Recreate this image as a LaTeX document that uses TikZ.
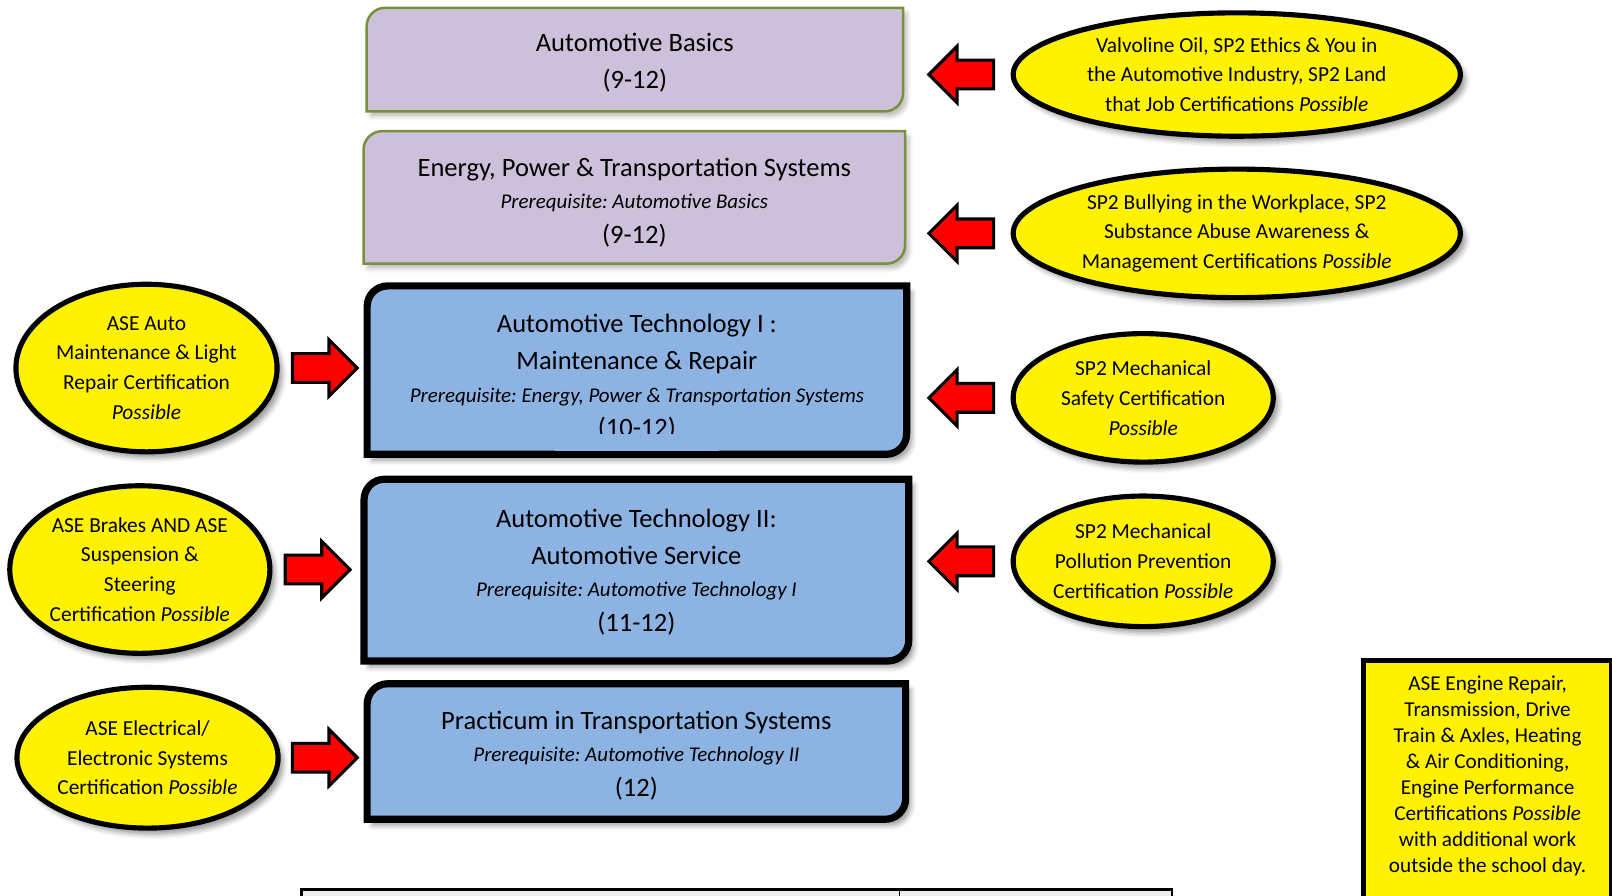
\documentclass[tikz,border=0pt]{standalone}
\usepackage{fontspec}
\setmainfont{Carlito}
\frenchspacing
\usetikzlibrary{shapes,calc,shadows.blur}
\definecolor{purplefill}{HTML}{CCC0DA}
\definecolor{oliveline}{HTML}{76923C}
\definecolor{bluefill}{HTML}{8DB3E2}
\definecolor{tablefill}{HTML}{EEEEEE}
\newcommand{\coursefont}{\fontsize{12.9}{18}\selectfont}
\newcommand{\prereqfont}{\fontsize{10.2}{12}\selectfont\itshape}
\newcommand{\certfont}{\fontsize{10.4}{14.5}\selectfont}
\newcommand{\notefont}{\fontsize{10.3}{12.6}\selectfont}
% outline with round top left and bottom right corners
\newcommand{\drawcourse}[3]{%
  \path[#2] ($(#1.north west)+(0,-#3)$) arc[start angle=180, end angle=90, radius=#3]
    -- (#1.north east) -- ($(#1.south east)+(0,#3)$) arc[start angle=0, end angle=-90, radius=#3]
    -- (#1.south west) -- cycle;}
\tikzset{
frame/.style = {rectangle, inner sep=0pt},
course/.style = {inner sep=0pt, align=center, font=\coursefont},
intro/.style = {draw=oliveline, fill=purplefill, line width=1.2pt,
  blur shadow={shadow xshift=2pt, shadow yshift=-2.5pt, shadow blur radius=2pt, shadow opacity=25}},
core/.style = {draw=black, fill=bluefill, line width=3.5pt,
  blur shadow={shadow xshift=2.5pt, shadow yshift=-3pt, shadow blur radius=2.5pt, shadow opacity=40}},
cert/.style = {ellipse, draw, fill=yellow, line width=2.5pt, inner xsep=-5pt, inner ysep=0pt,
  align=center, font=\certfont,
  blur shadow={shadow xshift=2.5pt, shadow yshift=-3pt, shadow blur radius=2.5pt, shadow opacity=40}},
note/.style = {rectangle, draw, fill=yellow, line width=2.5pt, align=center, font=\notefont},
blockarrow/.style = {single arrow, draw, fill=red, line width=1.5pt, minimum height=31.5pt,
  inner xsep=0pt, inner ysep=6.25pt, single arrow head extend=6.75pt},
toleft/.style = {blockarrow, shape border rotate=180, anchor=tail}
}
\begin{document}
\begin{tikzpicture}[x=0.5pt, y=-0.5pt]
\useasboundingbox (0,0) rectangle (1568,871);
\clip (0,0) rectangle (1568,871);

% course sequence
\node [frame, minimum width=260.5pt, minimum height=50pt] (basics) at (617.5,58) {};
\drawcourse{basics}{intro}{9pt}
\node [course] (basicstext) at (617.5,61) {Automotive Basics\\(9-12)};

\node [frame, minimum width=263pt, minimum height=64pt] (energy) at (617,192) {};
\drawcourse{energy}{intro}{9pt}
\node [course] (energytext) at (617,197)
  {Energy, Power \& Transportation Systems\\[-2.2pt]{\prereqfont Prerequisite: Automotive Basics}\\[-1.2pt](9-12)};

\node [frame, minimum width=262pt, minimum height=81.5pt] (techone) at (619.5,360) {};
\drawcourse{techone}{core}{10pt}
\node [course] (techonetext) at (619.5,367)
  {Automotive Technology I :\\Maintenance \& Repair\\[-2.2pt]{\prereqfont Prerequisite: Energy, Power \& Transportation Systems}\\[-1.2pt](10-12)};
% last line is cut off inside the frame
\fill [bluefill] ($(techone.south)+(-40pt,1.8pt)$) rectangle ($(techone.south)+(40pt,9.75pt)$);

\node [frame, minimum width=264.5pt, minimum height=88pt] (techtwo) at (619,554.5) {};
\drawcourse{techtwo}{core}{10pt}
\node [course] (techtwotext) at (619,556.5)
  {Automotive Technology II:\\Automotive Service\\[-2.2pt]{\prereqfont Prerequisite: Automotive Technology I}\\[-1.2pt](11-12)};

\node [frame, minimum width=261.5pt, minimum height=65.5pt] (practicum) at (619,731) {};
\drawcourse{practicum}{core}{10pt}
\node [course] (practicumtext) at (619,735)
  {Practicum in Transportation Systems\\[-2.2pt]{\prereqfont Prerequisite: Automotive Technology II}\\[-1.2pt](12)};

% certifications on the right
\node [cert, minimum width=217.5pt, minimum height=60pt] (valvoline) at (1203,72.5)
  {Valvoline Oil, SP2 Ethics \& You in\\the Automotive Industry, SP2 Land\\that Job Certifications \textit{Possible}};
\node [cert, minimum width=217.5pt, minimum height=62.5pt] (bullying) at (1203,227)
  {SP2 Bullying in the Workplace, SP2\\Substance Abuse Awareness \&\\Management Certifications \textit{Possible}};
\node [cert, minimum width=126.5pt, minimum height=62.5pt] (safety) at (1112,387)
  {SP2 Mechanical\\Safety Certification\\\textit{Possible}};
\node [cert, minimum width=126.5pt, minimum height=63.5pt] (pollution) at (1112,546)
  {SP2 Mechanical\\Pollution Prevention\\Certification \textit{Possible}};

% certifications on the left
\node [cert, minimum width=127pt, minimum height=81.5pt] (aseauto) at (142.5,358)
  {ASE Auto\\Maintenance \& Light\\Repair Certification\\\textit{Possible}};
\node [cert, minimum width=126.5pt, minimum height=81.5pt] (asebrakes) at (136,554)
  {ASE Brakes AND ASE\\Suspension \&\\Steering\\Certification \textit{Possible}};
\node [cert, minimum width=127pt, minimum height=68.5pt] (aseelec) at (143.5,737)
  {ASE Electrical/\\Electronic Systems\\Certification \textit{Possible}};

% block arrows
\node [toleft] (a1) at ([xshift=-7.5pt]valvoline.west) {};
\node [toleft] (a2) at ([xshift=-7.5pt]bullying.west) {};
\node [toleft] (a3) at ([xshift=-7.5pt]safety.west) {};
\node [toleft] (a4) at ([xshift=-7.5pt]pollution.west) {};
\node [blockarrow, anchor=tail] (a5) at ([xshift=5.5pt]aseauto.east) {};
\node [blockarrow, anchor=tail] (a6) at ([xshift=5.5pt]asebrakes.east) {};
\node [blockarrow, anchor=tail] (a7) at ([xshift=5pt]aseelec.east) {};

% extra certifications
\node [note, anchor=north, minimum width=121pt, inner xsep=4pt, inner ysep=7.7pt, text depth=40pt] (asenote) at (1447,640)
  {ASE Engine Repair,\\Transmission, Drive\\Train \& Axles, Heating\\\& Air Conditioning,\\Engine Performance\\Certifications \textit{Possible}\\with additional work\\outside the school day.};

% top of the table below
\draw [line width=1.3pt, fill=tablefill] (293,900) |- (1140,865) -- (1140,900);
\draw [line width=0.8pt] (875,865) -- (875,900);
\end{tikzpicture}
\end{document}
